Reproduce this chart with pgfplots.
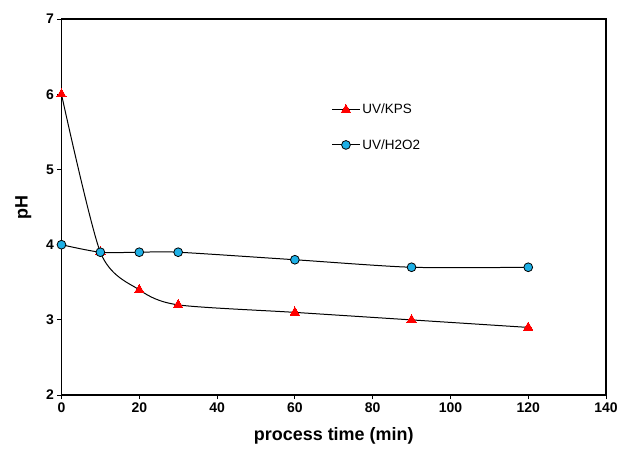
\documentclass[border=0pt]{standalone}
\usepackage{pgfplots}
\pgfplotsset{compat=1.18}
\usepackage{fontspec}
\setmainfont{Liberation Sans}
\definecolor{cyanpt}{RGB}{30,176,230}
\begin{document}
\begin{tikzpicture}
\begin{axis}[
  scale only axis,
  width=546pt, height=377pt,
  xmin=0, xmax=140, ymin=2, ymax=7,
  xtick={0,20,...,140}, ytick={2,...,7},
  tick align=outside, tick pos=left,
  major tick length=4pt,
  axis line style={line width=1.3pt},
  every tick/.style={line width=1pt, black},
  tick label style={font=\bfseries\fontsize{14}{16}\selectfont},
  /pgf/number format/assume math mode=true,
  xlabel={\bfseries\fontsize{18}{20}\selectfont process time (min)},
  ylabel={\bfseries\fontsize{18}{20}\selectfont pH},
  xlabel style={yshift=-8pt},
  ylabel style={yshift=8pt},
  legend style={draw=none, fill=none, at={(0.49,0.785)}, anchor=north west,
    font=\fontsize{13.5}{15}\selectfont, row sep=20pt},
  legend cell align=left,
  legend image code/.code={\draw[mark repeat=2,mark phase=2] plot coordinates {(0pt,0pt) (14pt,0pt) (28pt,0pt)};},
]
\addplot[black, line width=1pt, smooth, tension=0.45, mark=triangle*, mark size=5.4pt,
  mark options={fill=red, draw=red, line width=0pt}] coordinates {
  (0,6) (10,3.9) (20,3.4) (30,3.2) (60,3.1) (90,3.0) (120,2.9)};
\addlegendentry{UV/KPS}
\addplot[black, line width=1pt, smooth, tension=0.45, mark=*, mark size=4.4pt,
  mark options={fill=cyanpt, draw=black, line width=0.8pt}] coordinates {
  (0,4) (10,3.9) (20,3.9) (30,3.9) (60,3.8) (90,3.7) (120,3.7)};
\addlegendentry{UV/H2O2}
\end{axis}
\path (current bounding box.north west) ++(-12pt,11pt);
\path (current bounding box.south east) ++(1pt,-2pt);
\end{tikzpicture}
\end{document}
